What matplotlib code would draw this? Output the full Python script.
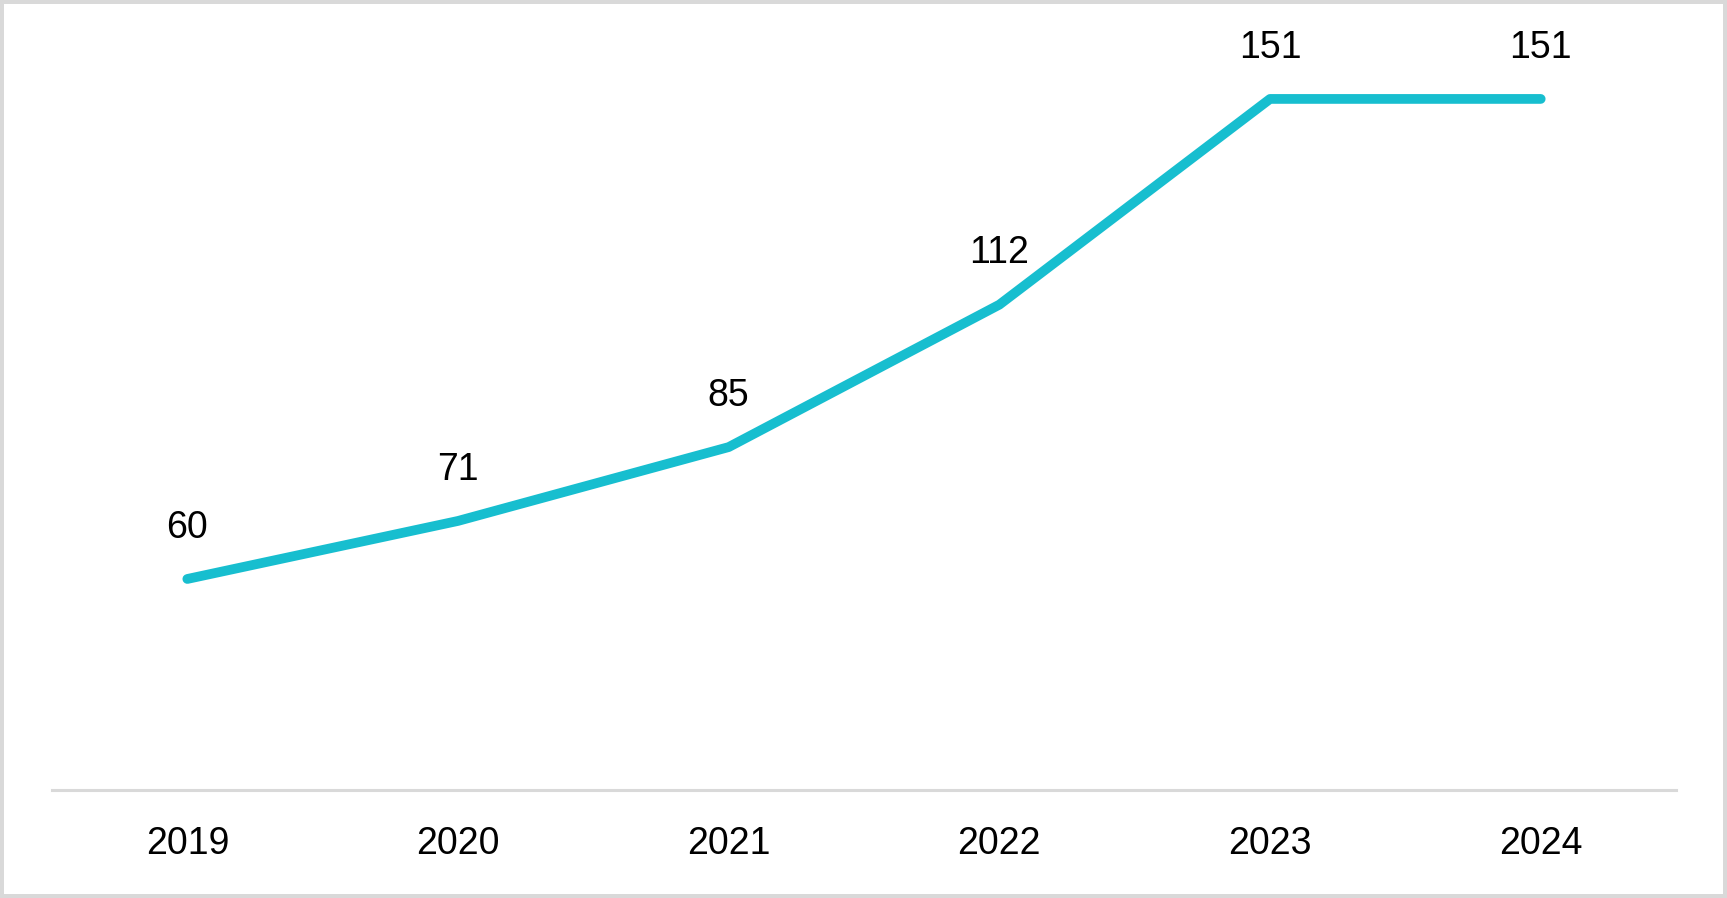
import matplotlib.pyplot as plt

years = ['2019', '2020', '2021', '2022', '2023', '2024']
values = [60, 71, 85, 112, 151, 151]

line_color = '#17becf'
grid_color = '#d9d9d9'

plt.rcParams['font.family'] = ['Liberation Sans', 'DejaVu Sans']

fig = plt.figure(figsize=(17.27, 8.98), dpi=100)
fig.patch.set_facecolor('white')
fig.patch.set_edgecolor(grid_color)
fig.patch.set_linewidth(4.5)

ax = fig.add_axes([0.0301, 0.1203, 0.9404, 0.8224])
x = list(range(len(years)))
ax.plot(x, values, color=line_color, linewidth=7, solid_capstyle='round',
        solid_joinstyle='round')

# Data labels above each point
for xi, v in zip(x, values):
    ax.annotate(str(v), (xi, v), xytext=(0, 37), textcoords='offset points',
                ha='center', va='center', fontsize=27, color='black')

ax.set_xlim(-0.5, len(years) - 0.5)
ax.set_ylim(20, 160)
ax.set_xticks(x)
ax.set_xticklabels(years, fontsize=27)
ax.set_yticks([])
ax.tick_params(axis='x', length=0, pad=26)

for side in ['top', 'right', 'left']:
    ax.spines[side].set_visible(False)
ax.spines['bottom'].set_color(grid_color)
ax.spines['bottom'].set_linewidth(2.2)

fig.savefig('out.png', dpi=100)
